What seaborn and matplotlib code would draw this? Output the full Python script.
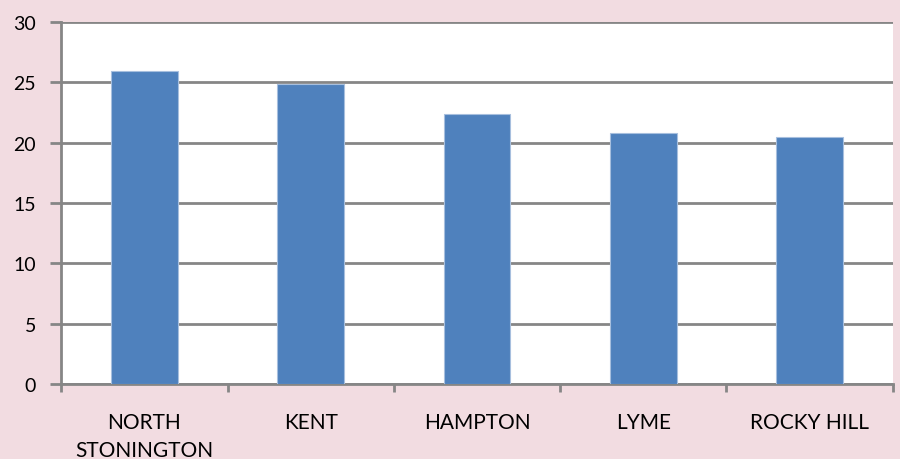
import numpy as np
import pandas as pd
import matplotlib
matplotlib.use("Agg")
import matplotlib.pyplot as plt
import seaborn as sns

towns = ["NORTH\nSTONINGTON", "KENT", "HAMPTON", "LYME", "ROCKY HILL"]
values = [25.9, 24.9, 22.4, 20.8, 20.5]
y_ticks = [0, 5, 10, 15, 20, 25, 30]

bg = "#F2DCE1"
grid_col = "#868686"
bar_col = "#4F81BD"

sns.set_style("white")
plt.rcParams["font.family"] = ["Lato", "DejaVu Sans"]

df = pd.DataFrame({"town": towns, "value": values})

fig = plt.figure(figsize=(9, 4.6), dpi=100, facecolor=bg)
ax = fig.add_axes([0.068, 0.163, 0.924, 0.787])
ax.set_facecolor("white")

sns.barplot(data=df, x="town", y="value", color=bar_col, width=0.4,
            saturation=1, edgecolor="#A7BFDE", linewidth=0.8, ax=ax, zorder=3)

ax.set_ylim(0, 30)
ax.set_xlim(-0.5, len(towns) - 0.5)
ax.set_yticks(y_ticks)
ax.yaxis.grid(True, color=grid_col, linewidth=2, zorder=0)
ax.set_axisbelow(True)

# tick marks between categories
ax.set_xticks(np.arange(-0.5, len(towns), 1.0), minor=True)
ax.tick_params(axis="x", which="minor", bottom=True, length=6, width=2, color=grid_col)
ax.tick_params(axis="x", which="major", bottom=False, length=0, pad=20,
               labelsize=15, labelcolor="black")
ax.tick_params(axis="y", left=True, length=8, width=2, color=grid_col, pad=10,
               labelsize=14, labelcolor="black")
for lbl in ax.get_xticklabels():
    lbl.set_linespacing(1.5)

for s in ["top", "right"]:
    ax.spines[s].set_visible(False)
for s in ["left", "bottom"]:
    ax.spines[s].set_color(grid_col)
    ax.spines[s].set_linewidth(2)

ax.set_xlabel("")
ax.set_ylabel("")

fig.savefig("out.png", dpi=100, facecolor=bg)
